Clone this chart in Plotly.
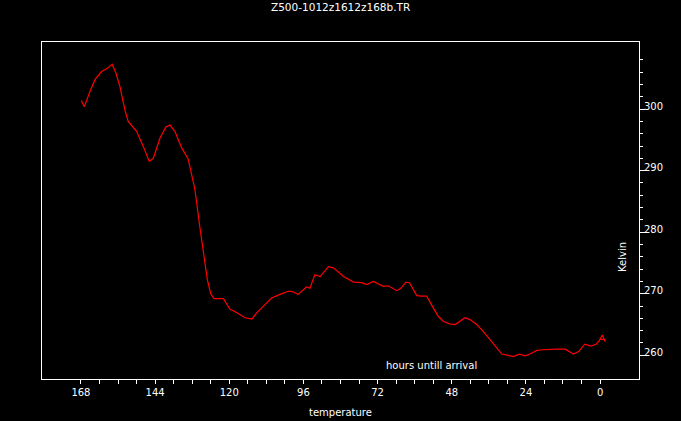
import plotly.graph_objects as go

# Hours until arrival (x) and temperature in Kelvin (y)
hours = [167.9, 166.9, 164.9, 163.3, 161.3, 159.2, 157.9, 156.7, 155.4, 153.8,
         152.7, 150.0, 147.8, 145.9, 144.6, 142.4, 140.5, 139.2, 137.6, 135.4,
         133.3, 132.2, 131.1, 129.7, 128.4, 127.1, 126.0, 124.9, 121.9, 119.8,
         117.1, 114.9, 112.7, 111.1, 109.5, 106.3, 103.6, 100.9, 99.8, 97.7,
         95.0, 93.9, 92.3, 90.6, 87.9, 86.3, 83.0, 79.8, 77.1, 75.5,
         73.4, 70.1, 68.5, 65.8, 64.7, 62.8, 61.7, 59.3, 57.7, 56.1,
         54.0, 52.3, 50.7, 48.6, 46.9, 45.3, 43.7, 42.1, 39.9, 37.8,
         35.6, 33.7, 31.8, 29.7, 28.1, 26.1, 24.3, 22.7, 20.5, 18.4,
         16.2, 14.0, 11.3, 8.6, 7.0, 4.9, 3.0, 1.3, 0.2, -0.7,
         -1.7, -1.5, 0.2]
kelvin = [301.4, 300.4, 303.1, 304.9, 306.1, 306.7, 307.3, 305.9, 303.7, 299.9,
          298.0, 296.4, 293.9, 291.5, 292.0, 295.3, 297.1, 297.4, 296.4, 293.7,
          291.9, 289.6, 286.9, 281.5, 276.6, 272.3, 270.0, 269.2, 269.2, 267.5,
          266.8, 266.1, 265.9, 266.9, 267.7, 269.3, 269.9, 270.4, 270.4, 269.9,
          271.1, 270.9, 273.1, 272.8, 274.4, 274.2, 272.8, 271.9, 271.8, 271.5,
          272.0, 271.2, 271.3, 270.5, 270.8, 271.9, 271.8, 269.7, 269.6, 269.6,
          267.7, 266.3, 265.5, 265.1, 265.0, 265.5, 266.1, 265.8, 265.0, 263.9,
          262.5, 261.4, 260.2, 260.0, 259.8, 260.2, 259.9, 260.2, 260.8, 260.9,
          261.0, 261.0, 261.0, 260.2, 260.6, 261.8, 261.5, 261.8, 262.4, 263.3,
          262.2, 262.6, 262.6]

x_ticks = [168, 144, 120, 96, 72, 48, 24, 0]
x_minor = [h for h in range(6, 168, 6) if h % 24 != 0]
y_ticks = [260, 270, 280, 290, 300]
y_minor = [v for v in range(262, 310, 2) if v % 10 != 0]

title_text = "Z500-1012z1612z168b.TR"
x_label = "temperature"
y_label = "Kelvin"
inner_label = "hours untill arrival"

FONT = "DejaVu Sans"

fig = go.Figure()
fig.add_trace(go.Scatter(x=hours, y=kelvin, mode="lines",
                         line=dict(color="#ff0000", width=1.2),
                         hoverinfo="skip", showlegend=False))

fig.update_layout(
    width=681, height=421,
    margin=dict(l=42, r=42, t=42, b=42),
    paper_bgcolor="black", plot_bgcolor="black",
    font=dict(family=FONT, size=10, color="white"),
    showlegend=False,
    xaxis=dict(range=[180.6, -12.6], showgrid=False, zeroline=False,
               showline=True, linecolor="white", linewidth=1, mirror=True,
               tickmode="array", tickvals=x_ticks, ticktext=[str(v) for v in x_ticks],
               ticks="outside", ticklen=4, tickcolor="white", tickwidth=1,
               tickfont=dict(family=FONT, size=10, color="white"),
               minor=dict(tickvals=x_minor, ticks="outside", ticklen=4,
                          tickcolor="white", tickwidth=1, showgrid=False)),
    yaxis=dict(range=[256.15, 310.9], side="right", showgrid=False, zeroline=False,
               showline=True, linecolor="white", linewidth=1, mirror=True,
               tickmode="array", tickvals=y_ticks, ticktext=[str(v) for v in y_ticks],
               ticks="outside", ticklen=5, tickcolor="white", tickwidth=1,
               ticklabelshift=-3, ticklabelstandoff=-3,
               tickfont=dict(family=FONT, size=10, color="white"),
               minor=dict(tickvals=y_minor, ticks="outside", ticklen=3,
                          tickcolor="white", tickwidth=1, showgrid=False)),
    annotations=[
        dict(text=title_text, xref="paper", yref="paper", x=0.5, y=1.104,
             showarrow=False, xanchor="center", yanchor="middle",
             font=dict(family=FONT, size=10.5, color="white")),
        dict(text=x_label, xref="paper", yref="paper", x=0.5, y=-0.100,
             showarrow=False, xanchor="center", yanchor="middle",
             font=dict(family=FONT, size=10, color="white")),
        dict(text=y_label, xref="paper", yref="paper", x=0.972, y=0.363,
             showarrow=False, xanchor="center", yanchor="middle", textangle=-90,
             font=dict(family=FONT, size=10, color="white")),
        dict(text=inner_label, xref="paper", yref="paper", x=0.652, y=0.040,
             showarrow=False, xanchor="center", yanchor="middle",
             font=dict(family=FONT, size=10, color="white")),
    ],
)

fig.write_html(
    "out.html",
    config={"displayModeBar": False},
    post_script="document.body.style.margin='0';document.body.style.padding='0';"
                "document.body.style.background='black';document.body.style.overflow='hidden';",
)
